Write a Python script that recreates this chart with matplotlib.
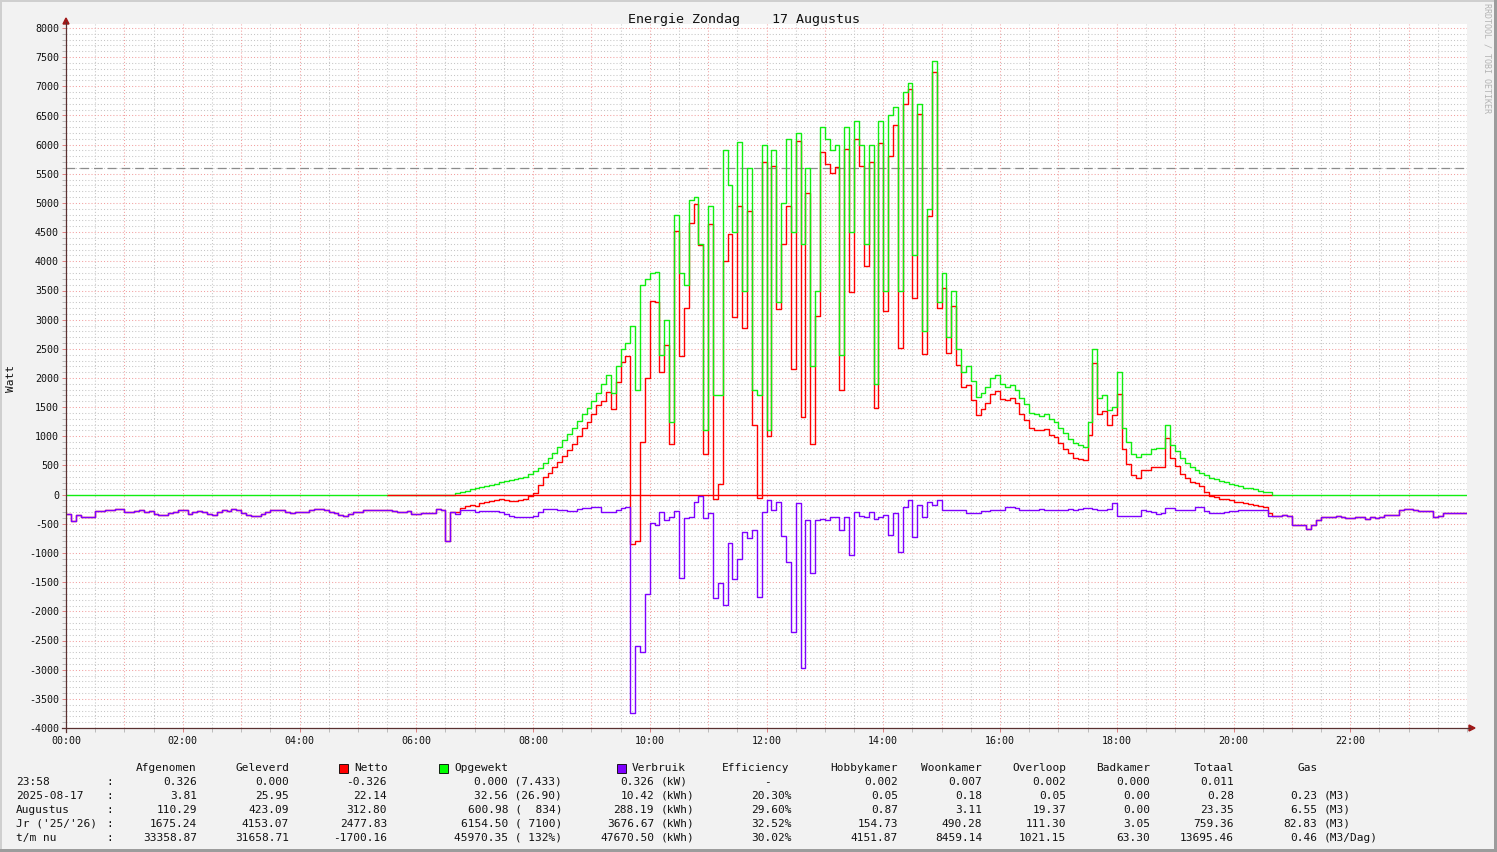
import numpy as np
import matplotlib
matplotlib.use("Agg")
import matplotlib.pyplot as plt
from matplotlib.lines import Line2D
from matplotlib.patches import Rectangle, Polygon

W, H, DPI = 1497, 852, 100
MONO = "DejaVu Sans Mono"

# ---------------- data ----------------
title = "Energie Zondag    17 Augustus"
y_label = "Watt"
watermark = "RRDTOOL / TOBI OETIKER"
x_tick_hours = [0, 2, 4, 6, 8, 10, 12, 14, 16, 18, 20, 22]
x_tick_labels = ["00:00", "02:00", "04:00", "06:00", "08:00", "10:00",
                 "12:00", "14:00", "16:00", "18:00", "20:00", "22:00"]
y_ticks = list(range(-4000, 8001, 500))
step_minutes = 5
limit_line = 5600          # dashed reference line (W)
netto_zero_start = 5.5     # hour from which the netto zero line is shown

# Verbruik (consumption, negative W), one row per hour, 5-minute steps
verbruik_rows = [
    [-330, -450, -340, -380, -380, -380, -280, -280, -270, -270, -250, -245],  # 00
    [-300, -300, -280, -270, -290, -280, -330, -340, -350, -320, -290, -260],  # 01
    [-270, -330, -290, -280, -290, -330, -350, -300, -260, -280, -250, -260],  # 02
    [-320, -340, -360, -360, -330, -300, -270, -260, -270, -300, -310, -290],  # 03
    [-290, -300, -270, -250, -240, -260, -290, -320, -350, -360, -330, -300],  # 04
    [-300, -270, -260, -260, -260, -260, -270, -280, -290, -290, -280, -330],  # 05
    [-330, -310, -310, -310, -250, -270, -800, -300, -330, -270, -260, -260],  # 06
    [-300, -280, -280, -280, -280, -290, -330, -360, -380, -380, -380, -380],  # 07
    [-370, -300, -245, -250, -250, -260, -270, -280, -280, -250, -230, -230],  # 08
    [-210, -210, -300, -290, -290, -270, -230, -220, -3740, -2600, -2700, -1700],  # 09
    [-480, -520, -300, -440, -380, -280, -1430, -400, -390, -120, -20, -400],  # 10
    [-310, -1770, -1510, -1890, -830, -1450, -1100, -640, -740, -600, -1750, -300],  # 11
    [-100, -270, -120, -700, -1150, -2350, -140, -2970, -430, -1340, -430, -420],  # 12
    [-440, -380, -390, -600, -380, -1030, -300, -360, -380, -300, -420, -380],  # 13
    [-350, -690, -320, -980, -210, -90, -720, -180, -380, -130, -180, -100],  # 14
    [-260, -270, -260, -270, -260, -320, -320, -310, -280, -280, -270, -270],  # 15
    [-260, -220, -220, -230, -270, -270, -260, -270, -250, -260, -270, -260],  # 16
    [-270, -260, -250, -260, -240, -230, -230, -240, -260, -270, -250, -140],  # 17
    [-370, -370, -370, -370, -360, -270, -280, -300, -330, -320, -230, -230],  # 18
    [-260, -270, -270, -260, -220, -220, -280, -310, -310, -310, -300, -280],  # 19
    [-280, -270, -270, -270, -270, -260, -270, -360, -360, -370, -340, -370],  # 20
    [-520, -520, -520, -580, -520, -430, -390, -380, -380, -370, -380, -400],  # 21
    [-400, -390, -390, -410, -390, -400, -380, -350, -350, -340, -260, -250],  # 22
    [-240, -260, -280, -280, -280, -380, -370, -320, -320, -320, -320, -320],  # 23
]

# Opgewekt (generated, W), one row per hour, 5-minute steps
opgewekt_rows = [
    [0] * 12, [0] * 12, [0] * 12, [0] * 12, [0] * 12, [0] * 12,                # 00-05
    [0, 0, 0, 0, 0, 0, 0, 0, 30, 40, 60, 90],                                   # 06
    [110, 130, 150, 170, 190, 210, 230, 250, 270, 290, 310, 350],               # 07
    [400, 460, 540, 620, 720, 820, 930, 1040, 1150, 1260, 1380, 1480],          # 08
    [1600, 1750, 1900, 2050, 1750, 2200, 2500, 2600, 2900, 1800, 3600, 3700],   # 09
    [3800, 3820, 2400, 3000, 1250, 4800, 3800, 3600, 5050, 5100, 4300, 1100],   # 10
    [4950, 1700, 1700, 5900, 5300, 4500, 6050, 3500, 5600, 1800, 1700, 6000],   # 11
    [1100, 5900, 3300, 5000, 6100, 4500, 6200, 4300, 5600, 2200, 3500, 6300],   # 12
    [6100, 5900, 6000, 2400, 6300, 4500, 6400, 6000, 4300, 6000, 1900, 6400],   # 13
    [3500, 6500, 6650, 3500, 6900, 7050, 4100, 6700, 2800, 4900, 7430, 3300],   # 14
    [3800, 2700, 3500, 2500, 2100, 2200, 1950, 1680, 1750, 1850, 2000, 2050],   # 15
    [1900, 1850, 1880, 1800, 1650, 1550, 1400, 1380, 1350, 1380, 1300, 1250],   # 16
    [1150, 1050, 960, 880, 850, 820, 1250, 2500, 1650, 1700, 1450, 1500],       # 17
    [2100, 1150, 900, 700, 650, 700, 700, 780, 800, 800, 1200, 850],            # 18
    [750, 620, 550, 480, 420, 370, 330, 290, 270, 240, 220, 190],               # 19
    [160, 140, 120, 110, 100, 60, 50, 40, 0, 0, 0, 0],                          # 20
    [0] * 12, [0] * 12, [0] * 12,                                               # 21-23
]

# legend table
legend_rows = ["23:58", "2025-08-17", "Augustus", "Jr ('25/'26)", "t/m nu"]
afgenomen = ["0.326", "3.81", "110.29", "1675.24", "33358.87"]
geleverd = ["0.000", "25.95", "423.09", "4153.07", "31658.71"]
netto_txt = ["-0.326", "22.14", "312.80", "2477.83", "-1700.16"]
opgewekt_txt = ["0.000 (7.433)", "32.56 (26.90)", "600.98 (  834)",
                "6154.50 ( 7100)", "45970.35 ( 132%)"]
verbruik_txt = ["0.326", "10.42", "288.19", "3676.67", "47670.50"]
verbruik_unit = ["(kW)", "(kWh)", "(kWh)", "(kWh)", "(kWh)"]
efficiency = ["-", "20.30%", "29.60%", "32.52%", "30.02%"]
hobbykamer = ["0.002", "0.05", "0.87", "154.73", "4151.87"]
woonkamer = ["0.007", "0.18", "3.11", "490.28", "8459.14"]
overloop = ["0.002", "0.05", "19.37", "111.30", "1021.15"]
badkamer = ["0.000", "0.00", "0.00", "3.05", "63.30"]
totaal = ["0.011", "0.28", "23.35", "759.36", "13695.46"]
gas = ["", "0.23", "6.55", "82.83", "0.46"]
gas_unit = ["", "(M3)", "(M3)", "(M3)", "(M3/Dag)"]

# ---------------- derived series ----------------
verbruik = np.array(verbruik_rows, dtype=float).ravel()
opgewekt = np.array(opgewekt_rows, dtype=float).ravel()
netto = opgewekt + verbruik
n = len(verbruik)
t = np.arange(n + 1) * step_minutes / 60.0


def ext(a):
    return np.append(a, a[-1])


gen_idx = np.nonzero(opgewekt > 0)[0]
netto_zero_end = t[gen_idx[-1] + 1]

# ---------------- figure ----------------
fig = plt.figure(figsize=(W / DPI, H / DPI), dpi=DPI, facecolor="#F2F2F2")


def fx(px):
    return px / W


def fy(py):
    return 1 - py / H


X0, X1 = 66, 1467
Y_TOP, Y0, Y1 = 24, 28, 728
w_per_px = 12000 / (Y1 - Y0)
ax = fig.add_axes([fx(X0), fy(Y1), (X1 - X0) / W, (Y1 - Y_TOP) / H])
ax.set_facecolor("white")
ax.set_xlim(0, 24)
ax.set_ylim(-4000, 8000 + (Y0 - Y_TOP) * w_per_px)
for s in ax.spines.values():
    s.set_visible(False)

minor_col = "#C6C6C6"
major_col = "#F2A0A0"
dot = (0, (1, 2))
for v in range(-4000, 8001, 100):
    if v % 500 == 0:
        ax.axhline(v, color=major_col, lw=0.75, ls=dot, zorder=0.6)
    else:
        ax.axhline(v, color=minor_col, lw=0.75, ls=dot, zorder=0.5)
for hh in np.arange(0.5, 24, 0.5):
    if float(hh).is_integer():
        ax.axvline(hh, color=major_col, lw=0.75, ls=dot, zorder=0.6)
    else:
        ax.axvline(hh, color=minor_col, lw=0.75, ls=dot, zorder=0.5)

ax.axhline(limit_line, color="#8C8C8C", lw=0.9, ls=(0, (7, 4)), zorder=1)

ax.set_xticks(x_tick_hours)
ax.set_xticklabels(x_tick_labels, fontfamily=MONO, fontsize=7.2, color="#111111")
ax.set_xticks(np.arange(0, 24.01, 0.5), minor=True)
ax.set_yticks(y_ticks)
ax.set_yticklabels([str(v) for v in y_ticks], fontfamily=MONO, fontsize=7.2,
                   color="#111111")
ax.set_yticks(np.arange(-4000, 8001, 100), minor=True)
ax.tick_params(axis="both", which="major", length=3, width=0.7, color="#E08080",
               pad=2)
ax.tick_params(axis="both", which="minor", length=3, width=0.7, color="#BBBBBB")
ax.tick_params(axis="x", which="major", pad=3)

lw = 1.0
ax.step(t, ext(netto), where="post", color="#FF0000", lw=lw, zorder=2)
ax.step(t, ext(opgewekt), where="post", color="#11EE11", lw=lw, zorder=3)
ax.plot([netto_zero_start, netto_zero_end], [0, 0], color="#FF0000", lw=lw,
        zorder=3.5, solid_capstyle="butt")
ax.step(t, ext(verbruik), where="post", color="#7F00FF", lw=lw, zorder=4)

# y label
fig.text(fx(11), fy(378), y_label, ha="center", va="center", rotation=90,
         fontfamily=MONO, fontsize=8, color="#111111")

# axes lines with arrows
axis_col = "#5A3030"
arrow_col = "#A01818"
fig.add_artist(Line2D([fx(X0), fx(X0)], [fy(732), fy(22)], color=axis_col, lw=0.9))
fig.add_artist(Line2D([fx(62), fx(1470)], [fy(Y1), fy(Y1)], color=axis_col, lw=0.9))
fig.add_artist(Polygon([[fx(X0), fy(18)], [fx(X0 - 3), fy(24)], [fx(X0 + 3), fy(24)]],
                       closed=True, color=arrow_col, transform=fig.transFigure))
fig.add_artist(Polygon([[fx(1475), fy(Y1)], [fx(1469), fy(Y1 - 3)], [fx(1469), fy(Y1 + 3)]],
                       closed=True, color=arrow_col, transform=fig.transFigure))

# title and watermark
fig.text(fx(744), fy(19), title, ha="center", va="center", fontfamily=MONO,
         fontsize=9.6, color="#111111")
fig.text(fx(1487), fy(58), watermark, ha="center", va="center", rotation=-90,
         fontfamily=MONO, fontsize=6, color="#B4B4B4")

# borders
def prect(x0, y0, x1, y1, color):
    fig.add_artist(Rectangle((fx(x0), fy(y1)), (x1 - x0) / W, (y1 - y0) / H,
                             transform=fig.transFigure, color=color, lw=0))


prect(0, 0, W, 2, "#CFCFCF")
prect(0, 0, 2, H, "#CFCFCF")
prect(W - 3, 0, W, H, "#9C9C9C")
prect(0, H - 3, W, H, "#9C9C9C")

# legend table
LF = 8.0


def txt(x, y, s, ha="right", color="#111111"):
    fig.text(fx(x), fy(y), s, ha=ha, va="center", fontfamily=MONO, fontsize=LF,
             color=color)


hy = 768
txt(197, hy, "Afgenomen")
txt(289, hy, "Geleverd")
for (bx, label, col) in [(339, "Netto", "#FF0000"), (439, "Opgewekt", "#00FF00"),
                         (617, "Verbruik", "#7F00FF")]:
    fig.add_artist(Rectangle((fx(bx), fy(hy + 5)), 9 / W, 9 / H,
                             transform=fig.transFigure, facecolor=col,
                             edgecolor="#000000", lw=0.6))
    txt(bx + 15, hy, label, ha="left")
txt(722, hy, "Efficiency", ha="left")
txt(898, hy, "Hobbykamer")
txt(982, hy, "Woonkamer")
txt(1066, hy, "Overloop")
txt(1150, hy, "Badkamer")
txt(1234, hy, "Totaal")
txt(1298, hy, "Gas", ha="left")

row_y = [782, 796, 810, 824, 838]
for i, y in enumerate(row_y):
    txt(16, y, legend_rows[i], ha="left")
    txt(110, y, ":", ha="center")
    txt(197, y, afgenomen[i])
    txt(289, y, geleverd[i])
    txt(387, y, netto_txt[i])
    txt(562, y, opgewekt_txt[i])
    txt(654, y, verbruik_txt[i])
    txt(661, y, verbruik_unit[i], ha="left")
    txt(792 if efficiency[i] != "-" else 771, y, efficiency[i])
    txt(898, y, hobbykamer[i])
    txt(982, y, woonkamer[i])
    txt(1066, y, overloop[i])
    txt(1150, y, badkamer[i])
    txt(1234, y, totaal[i])
    if gas[i]:
        txt(1317, y, gas[i])
        txt(1324, y, gas_unit[i], ha="left")

fig.savefig("out.png", dpi=DPI, facecolor=fig.get_facecolor())
